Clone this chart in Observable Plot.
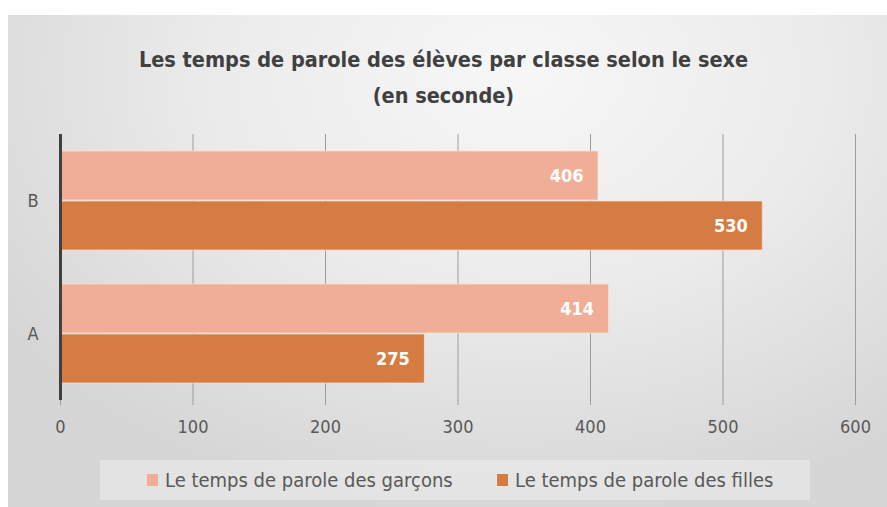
<!DOCTYPE html>
<html><head><meta charset="utf-8">
<script src="https://cdn.jsdelivr.net/npm/d3@7"></script>
<script src="https://cdn.jsdelivr.net/npm/@observablehq/plot@0.6"></script>
<style>
html,body{margin:0;padding:0;background:#fff;}
#page{position:relative;width:887px;height:507px;overflow:hidden;background:#fff;}
#frame{position:absolute;left:8px;top:15px;width:879px;height:492px;
 background: radial-gradient(ellipse 70% 90% at 58% 12%, #f7f7f7 0%, #ebebeb 50%, #d6d6d6 100%);}
#title{position:absolute;top:42px;left:0;width:887px;text-align:center;font-family:"DejaVu Sans Condensed","Open Sans",sans-serif;font-weight:bold;font-size:21.5px;line-height:36px;color:#404040;}
#chart{position:absolute;top:115px;left:0;}
#legend{position:absolute;left:100px;top:460px;width:710px;height:40px;background:rgba(238,238,238,0.55);font-family:"DejaVu Sans Condensed","Open Sans",sans-serif;font-size:20px;color:#595959;}
.item{position:absolute;top:0;height:40px;display:flex;align-items:center;}
.sw{width:11px;height:12px;margin-right:7px;}
</style></head>
<body><div id="page">
<div id="frame"></div>
<div id="title">Les temps de parole des élèves par classe selon le sexe<br>(en seconde)</div>
<div id="chart"></div>
<div id="legend"></div>
</div>
<script>
const classes = ["B", "A"];
const series = ["Le temps de parole des garçons", "Le temps de parole des filles"];
const garcons = [406, 414];
const filles = [530, 275];
const xTicks = [0, 100, 200, 300, 400, 500, 600];
const colors = ["#f1ae96", "#d57c42"];

const data = classes.flatMap((c, i) => [
  {classe: c, serie: series[0], value: garcons[i]},
  {classe: c, serie: series[1], value: filles[i]}
]);

const font = '"DejaVu Sans Condensed","Open Sans",sans-serif';

const chart = Plot.plot({
  width: 887, height: 330,
  marginLeft: 60, marginRight: 32, marginTop: 18, marginBottom: 45,
  style: {background: "transparent", fontFamily: font, fontSize: "18px", color: "#595959", overflow: "visible"},
  x: {domain: [0, 600], ticks: xTicks, label: null},
  fy: {domain: classes, padding: 0, label: null, axis: null},
  y: {domain: series, paddingInner: 0.02, paddingOuter: 0.33, axis: null},
  color: {domain: series, range: colors},
  marks: [
    Plot.gridX(xTicks.filter(d => d > 0), {stroke: "#9c9c9c", strokeOpacity: 1, strokeWidth: 1}),
    Plot.axisX(xTicks, {tickSize: 5, tickPadding: 15, stroke: "#9c9c9c", fill: "#595959", fontSize: 18, label: null}),
    Plot.barX(data, {fy: "classe", y: "serie", x: "value", fill: "serie", stroke: "#fbe3d8", strokeWidth: 1, strokeOpacity: 0.7}),
    Plot.text(data, {fy: "classe", y: "serie", x: "value", text: d => String(d.value), textAnchor: "end", dx: -15, fill: "white", fontWeight: "bold", fontSize: 18}),
    Plot.ruleX([0], {stroke: "#404040", strokeWidth: 3}),
    Plot.axisFy({anchor: "left", tickSize: 0, tickPadding: 22, label: null, fontSize: 18, fill: "#595959"})
  ]
});
document.getElementById("chart").appendChild(chart);

const legend = document.getElementById("legend");
const lx = [47, 397];
series.forEach((s, i) => {
  const it = document.createElement("div");
  it.className = "item";
  it.style.left = lx[i] + "px";
  it.innerHTML = `<span class="sw" style="background:${colors[i]}"></span><span>${s}</span>`;
  legend.appendChild(it);
});
</script>
</body></html>
